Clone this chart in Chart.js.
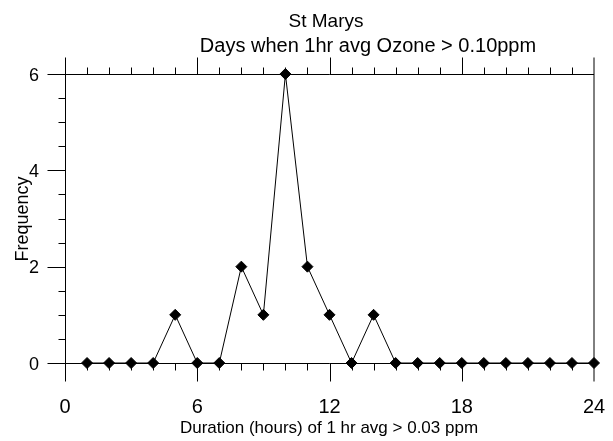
<!DOCTYPE html>
<html>
<head>
<meta charset="utf-8">
<script src="https://cdn.jsdelivr.net/npm/chart.js@4"></script>
<style>
  html, body { margin: 0; padding: 0; background: #fff; }
  #chart { display: block; }
</style>
</head>
<body>
<canvas id="chart" width="613" height="441"></canvas>
<script>
const hours = [1, 2, 3, 4, 5, 6, 7, 8, 9, 10, 11, 12, 13, 14, 15, 16, 17, 18, 19, 20, 21, 22, 23, 24];
const frequency = [0, 0, 0, 0, 1, 0, 0, 2, 1, 6, 2, 1, 0, 1, 0, 0, 0, 0, 0, 0, 0, 0, 0, 0];
const xMajorTicks = [0, 6, 12, 18, 24];
const yMajorTicks = [0, 2, 4, 6];
const titleText = 'St Marys';
const subtitleText = 'Days when 1hr avg Ozone > 0.10ppm';
const xTitle = 'Duration (hours) of 1 hr avg > 0.03 ppm';
const yTitle = 'Frequency';

const FONT = '"Liberation Sans", Arial, sans-serif';

// draws the box, tick marks and all labels from the chart's own scales
const frameAxes = {
  id: 'frameAxes',
  beforeDatasetsDraw(chart) {
    const { ctx, scales: { x, y } } = chart;
    const left = Math.round(x.getPixelForValue(0)) + 0.5;
    const right = Math.round(x.getPixelForValue(24));
    const top = Math.round(y.getPixelForValue(6)) + 0.5;
    const bottom = Math.round(y.getPixelForValue(0)) + 0.5;

    ctx.save();
    ctx.strokeStyle = '#000';
    ctx.lineWidth = 1;
    ctx.beginPath();
    // box
    ctx.moveTo(left, top); ctx.lineTo(right, top);
    ctx.moveTo(left, bottom); ctx.lineTo(right, bottom);
    ctx.moveTo(left, top - 17); ctx.lineTo(left, bottom + 18);
    ctx.moveTo(right, top - 17); ctx.lineTo(right, bottom + 18);

    // x ticks: every hour, major every 6
    for (let h = 1; h < 24; h++) {
      const px = Math.round(x.getPixelForValue(h)) + 0.5;
      const major = xMajorTicks.includes(h);
      ctx.moveTo(px, top); ctx.lineTo(px, top - (major ? 17 : 7));
      ctx.moveTo(px, bottom); ctx.lineTo(px, bottom + (major ? 18 : 7));
    }
    // y ticks: every 0.5, major every 2
    for (let v = 0; v <= 6; v += 0.5) {
      const py = Math.round(y.getPixelForValue(v)) + 0.5;
      const major = yMajorTicks.includes(v);
      ctx.moveTo(left, py); ctx.lineTo(left - (major ? 18 : 7), py);
    }
    ctx.stroke();

    ctx.fillStyle = '#000';
    ctx.textBaseline = 'alphabetic';
    ctx.textAlign = 'center';
    ctx.font = '20px ' + FONT;
    xMajorTicks.forEach(t => {
      ctx.fillText(String(t), x.getPixelForValue(t), 413);
    });
    ctx.font = '18px ' + FONT;
    ctx.textAlign = 'right';
    yMajorTicks.forEach(t => {
      ctx.fillText(String(t), 39, y.getPixelForValue(t) + 6.5);
    });

    ctx.textAlign = 'center';
    ctx.font = '19px ' + FONT;
    ctx.fillText(titleText, 326, 27);
    ctx.font = '20px ' + FONT;
    ctx.fillText(subtitleText, 368, 52);

    ctx.font = '17px ' + FONT;
    ctx.fillText(xTitle, 329, 433);

    ctx.font = '18px ' + FONT;
    ctx.translate(28, 219);
    ctx.rotate(-Math.PI / 2);
    ctx.fillText(yTitle, 0, 0);
    ctx.restore();
  }
};

new Chart(document.getElementById('chart'), {
  type: 'line',
  data: {
    datasets: [{
      data: hours.map((h, i) => ({ x: h, y: frequency[i] })),
      borderColor: '#000',
      borderWidth: 1,
      backgroundColor: '#000',
      pointStyle: 'rectRot',
      pointRadius: 5.5,
      pointBorderWidth: 1,
      pointBorderColor: '#000',
      pointBackgroundColor: '#000',
      tension: 0,
      clip: false
    }]
  },
  options: {
    responsive: false,
    animation: false,
    layout: { padding: { left: 65, right: 19, top: 74, bottom: 78 } },
    plugins: {
      legend: { display: false },
      tooltip: { enabled: false },
      title: { display: false }
    },
    scales: {
      x: { type: 'linear', min: 0, max: 24, display: false },
      y: { type: 'linear', min: 0, max: 6, display: false }
    }
  },
  plugins: [frameAxes]
});
</script>
</body>
</html>
